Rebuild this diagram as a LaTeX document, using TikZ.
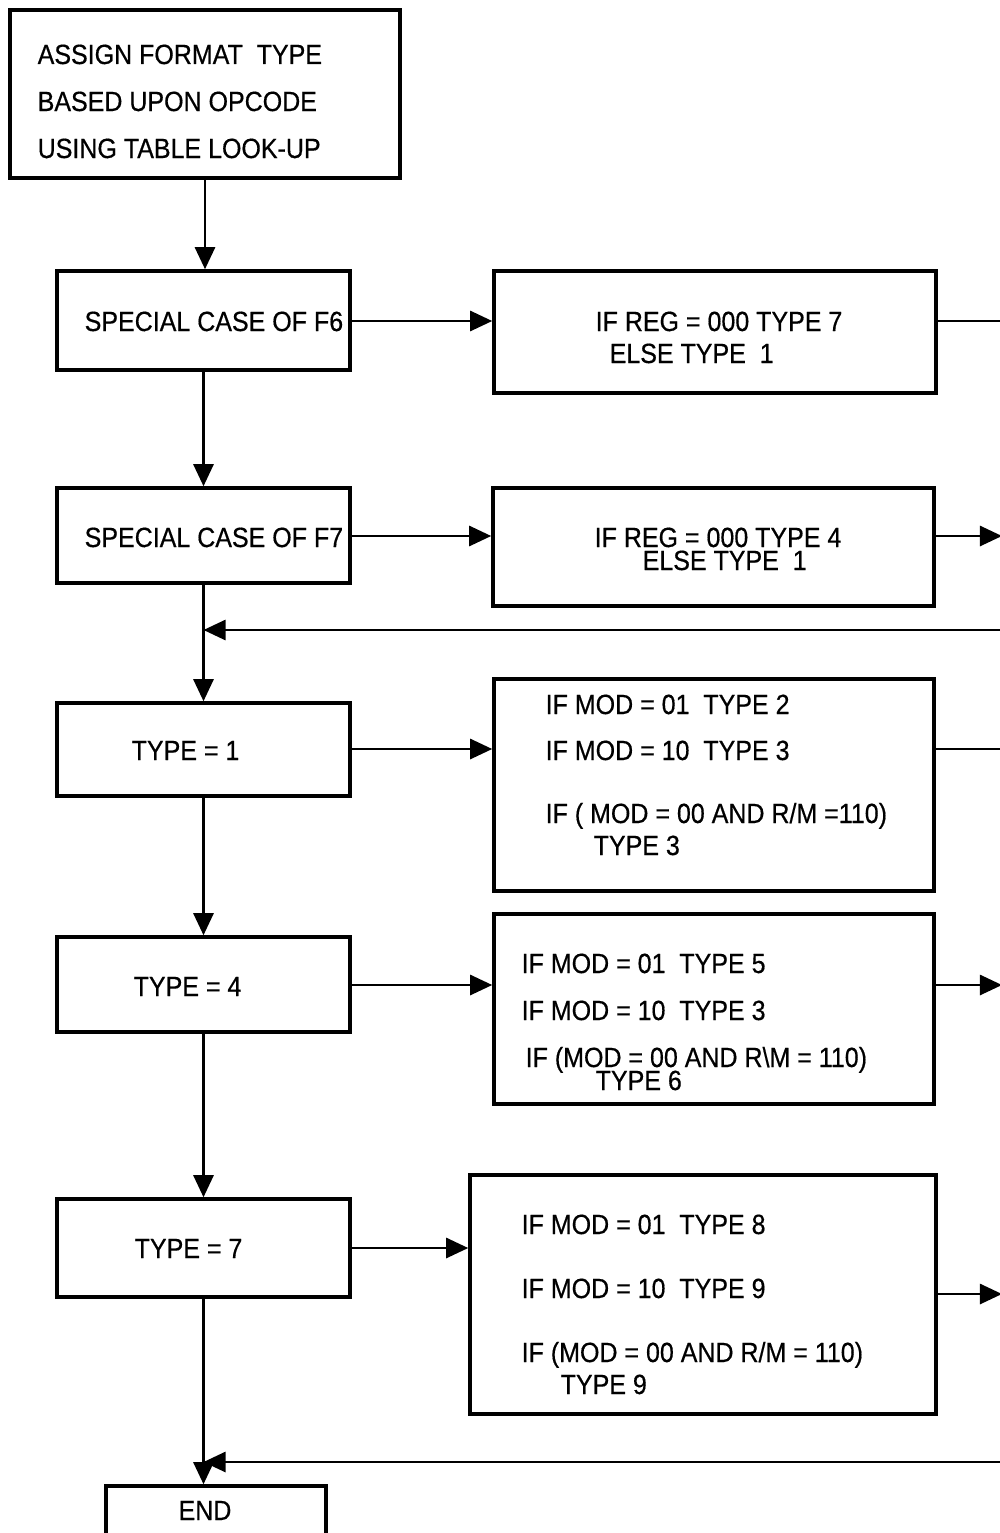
\documentclass[tikz,border=0pt]{standalone}
\usepackage{fontspec}
\setmainfont{Liberation Sans}[FakeStretch=0.9, FakeBold=0.5]
\usetikzlibrary{fit, arrows.meta}
\tikzset{
  box/.style={draw, line width=1pt, inner sep=0pt},
  txt/.style={anchor=base west, inner sep=0pt, font=\fontsize{7.9}{9}\selectfont},
  link/.style={line width=0.75pt},
  arr/.style={link, -{Triangle[length=2.2mm, width=2mm]}}
}

\begin{document}
\begin{tikzpicture}[x=0.01cm, y=-0.01cm]
        \useasboundingbox (0,0) rectangle (1000,1533);
        % left column
        \node[box, fit={(10,10) (400,178)}] (assign) {};
        \node[txt] (assign1) at (37,64) {ASSIGN FORMAT\ \ TYPE};
        \node[txt] (assign2) at (37,111) {BASED UPON OPCODE};
        \node[txt] (assign3) at (37,158) {USING TABLE LOOK-UP};
        \node[box, fit={(57,271) (350,370)}] (f6) {};
        \node[txt] (f6t) at (84,331) {SPECIAL CASE OF F6};
        \node[box, fit={(57,488) (350,583)}] (f7) {};
        \node[txt] (f7t) at (84,547) {SPECIAL CASE OF F7};
        \node[box, fit={(57,703) (350,796)}] (type1) {};
        \node[txt] (type1t) at (131,760) {TYPE = 1};
        \node[box, fit={(57,937) (350,1032)}] (type4) {};
        \node[txt] (type4t) at (133,996) {TYPE = 4};
        \node[box, fit={(57,1199) (350,1297)}] (type7) {};
        \node[txt] (type7t) at (134,1258) {TYPE = 7};
        \node[box, fit={(106,1486) (326,1550)}] (end) {};
        \node[txt, anchor=base] (endt) at (205,1520) {END};
        % right column
        \node[box, fit={(494,271) (936,393)}] (reg6) {};
        \node[txt] (reg6a) at (595,331) {IF REG = 000 TYPE 7};
        \node[txt] (reg6b) at (609,363) {ELSE TYPE\ \ 1};
        \node[box, fit={(493,488) (934,606)}] (reg7) {};
        \node[txt] (reg7a) at (594,547) {IF REG = 000 TYPE 4};
        \node[txt] (reg7b) at (642,570) {ELSE TYPE\ \ 1};
        \node[box, fit={(494,679) (934,891)}] (mod1) {};
        \node[txt] (mod1a) at (545,714) {IF MOD = 01\ \ TYPE 2};
        \node[txt] (mod1b) at (545,760) {IF MOD = 10\ \ TYPE 3};
        \node[txt] (mod1c) at (545,823) {IF ( MOD\ = 00\ AND\ R/M\ =110)};
        \node[txt] (mod1d) at (593,855) {TYPE 3};
        \node[box, fit={(494,914) (934,1104)}] (mod4) {};
        \node[txt] (mod4a) at (521,973) {IF MOD = 01\ \ TYPE 5};
        \node[txt] (mod4b) at (521,1020) {IF MOD = 10\ \ TYPE 3};
        \node[txt] (mod4c) at (525,1067) {IF (MOD = 00 AND R\textbackslash M = 110)};
        \node[txt] (mod4d) at (595,1090) {TYPE 6};
        \node[box, fit={(470,1175) (936,1414)}] (mod7) {};
        \node[txt] (mod7a) at (521,1234) {IF MOD = 01\ \ TYPE 8};
        \node[txt] (mod7b) at (521,1298) {IF MOD = 10\ \ TYPE 9};
        \node[txt] (mod7c) at (521,1362) {IF (MOD = 00 AND R/M = 110)};
        \node[txt] (mod7d) at (560,1394) {TYPE 9};
        % free ends at the right edge
        \coordinate (out6) at (1002,321);
        \coordinate (out7) at (1002,536);
        \coordinate (back1) at (1002,630);
        \coordinate (out1) at (1002,749);
        \coordinate (out4) at (1002,985);
        \coordinate (in7) at (0,1248);
        \coordinate (out7b) at (1002,1294);
        \coordinate (back2) at (1002,1462);
        % main line
        \draw[arr] (assign.south) -- (assign.south |- f6.north);
        \draw[arr] (f6.south) -- (f7.north);
        \draw[arr] (f7.south) -- (type1.north);
        \draw[arr] (type1.south) -- (type4.north);
        \draw[arr] (type4.south) -- (type7.north);
        \draw[arr] (type7.south) -- (type7.south |- end.north);
        % branches
        \draw[arr] (f6.east |- out6) -- (out6 -| reg6.west);
        \draw[arr] (f7.east |- out7) -- (out7 -| reg7.west);
        \draw[arr] (type1.east |- out1) -- (out1 -| mod1.west);
        \draw[arr] (type4.east |- out4) -- (out4 -| mod4.west);
        \draw[arr] (type7.east |- in7) -- (mod7.west |- in7);
        \draw[link] (reg6.east |- out6) -- (out6);
        \draw[arr] (reg7.east |- out7) -- (out7);
        \draw[link] (mod1.east |- out1) -- (out1);
        \draw[arr] (mod4.east |- out4) -- (out4);
        \draw[arr] (mod7.east |- out7b) -- (out7b);
        % returns
        \draw[arr] (back1) -- (back1 -| f7.south);
        \draw[arr] (back2) -- (back2 -| type7.south);
      \end{tikzpicture}
\end{document}
